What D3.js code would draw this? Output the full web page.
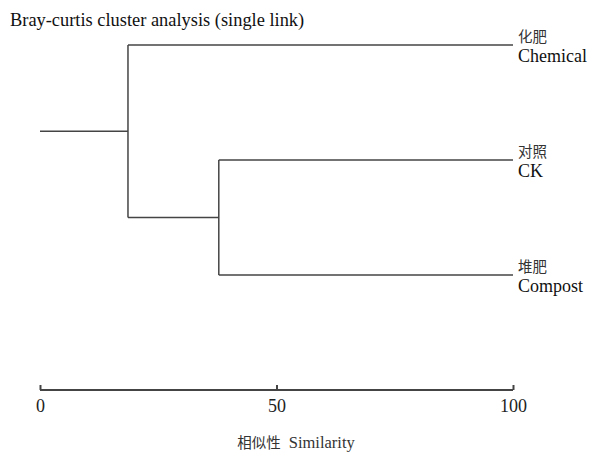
<!DOCTYPE html>
<html>
<head>
<meta charset="utf-8">
<script src="https://cdn.jsdelivr.net/npm/d3@7"></script>
<style>
  body { margin: 0; background: #fff; }
</style>
</head>
<body>
<svg id="chart" width="589" height="452"></svg>
<script>
// leaves, top to bottom
var leafNames = ["Chemical", "CK", "Compost"];
var leafNamesCn = ["化肥", "对照", "堆肥"];
// merges: left, right, similarity at which they join
var mergeLeft = ["CK", "Chemical"];
var mergeRight = ["Compost", "CK+Compost"];
var mergeSim = [37.8, 18.6];
var rootSim = 0;
var ticks = [0, 50, 100];

var serif = "'Liberation Serif', 'Times New Roman', serif";
var cjk = "'Noto Sans CJK SC', sans-serif";
var stroke = "#444";

var svg = d3.select("#chart");

var x = d3.scaleLinear().domain([0, 100]).range([40, 513]);
var y = d3.scalePoint().domain(leafNames).range([45, 275]);

function link(x1, x2, y1, y2) {
    svg.append("line")
        .attr("x1", x1).attr("x2", x2)
        .attr("y1", y1).attr("y2", y2)
        .attr("stroke", stroke).attr("stroke-width", 1.5);
}

// walk the merges, drawing each bracket
var nodes = {};
leafNames.forEach(function(n) {
    nodes[n] = { sim: 100, y: y(n) };
});
var rootNode;
mergeLeft.forEach(function(l, i) {
    var r = mergeRight[i];
    var a = nodes[l], b = nodes[r];
    var node = { sim: mergeSim[i], y: (a.y + b.y) / 2 };
    nodes[l + "+" + r] = node;
    link(x(node.sim), x(a.sim), a.y, a.y);
    link(x(node.sim), x(b.sim), b.y, b.y);
    link(x(node.sim), x(node.sim), a.y, b.y);
    rootNode = node;
});
link(x(rootSim), x(rootNode.sim), rootNode.y, rootNode.y);

// leaf labels
var lab = svg.selectAll(".leaf").data(leafNames).enter().append("g")
    .attr("class", "leaf")
    .attr("transform", function(d) { return "translate(" + (x(100) + 5) + "," + y(d) + ")"; });
lab.append("text")
    .attr("y", -3)
    .style("font-family", cjk)
    .style("font-size", "14.5px")
    .style("fill", "#333")
    .text(function(d, i) { return leafNamesCn[i]; });
lab.append("text")
    .attr("y", 17)
    .style("font-family", serif)
    .style("font-size", "18px")
    .style("fill", "#111")
    .text(function(d) { return d; });

// axis
var axis = d3.axisBottom(x).tickValues(ticks).tickSize(0).tickPadding(0).tickFormat(d3.format("d"));
var g = svg.append("g").attr("transform", "translate(0,390)").call(axis);
g.select(".domain").attr("stroke", stroke).attr("stroke-width", 2)
    .attr("d", "M" + x(0) + ",0H" + x(100));
g.selectAll(".tick line").attr("y2", -5).attr("stroke", stroke).attr("stroke-width", 2);
g.selectAll(".tick text").attr("y", 22).attr("dy", 0)
    .style("font-size", "18px")
    .style("font-family", serif).attr("fill", "#222");

var xt = svg.append("text")
    .attr("x", 296).attr("y", 448)
    .attr("text-anchor", "middle")
    .style("font-family", serif)
    .style("font-size", "16.5px")
    .style("fill", "#333");
xt.append("tspan").style("font-family", cjk).style("font-size", "14.5px").text("相似性");
xt.append("tspan").attr("dx", 8).text("Similarity");

svg.append("text")
    .attr("x", 10).attr("y", 26)
    .style("font-family", serif)
    .style("font-size", "18.4px")
    .style("fill", "#111")
    .text("Bray-curtis cluster analysis (single link)");
</script>
</body>
</html>
